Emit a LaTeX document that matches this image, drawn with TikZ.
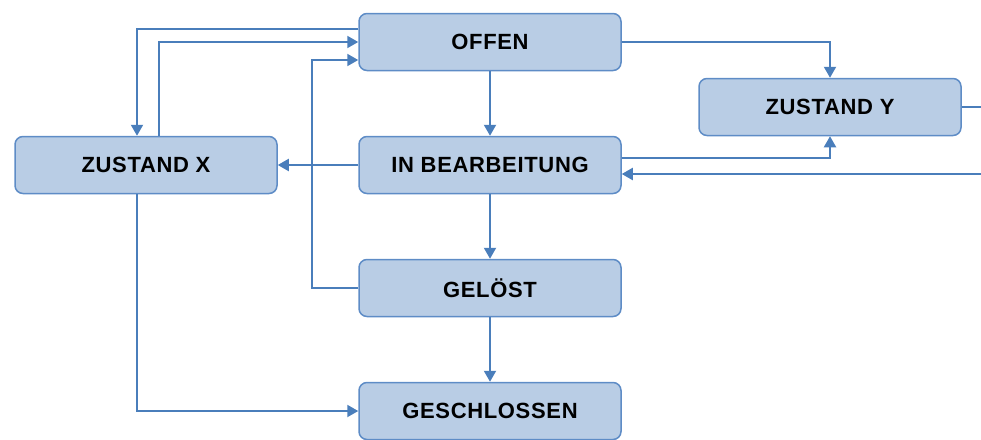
\documentclass[tikz,border=0pt]{standalone}
\usepackage{fontspec}
\setmainfont{Liberation Sans}
\usepackage{xcolor}
\usetikzlibrary{arrows.meta, calc, positioning}

\definecolor{boxfill}{HTML}{B9CDE5}
\definecolor{boxline}{HTML}{5E8CC6}
\definecolor{flowline}{HTML}{4A7EBB}

\tikzset{
  state/.style={draw=boxline, fill=boxfill, line width=1.5pt, rounded corners=8pt,
    minimum width=262pt, minimum height=57pt,
    font=\fontsize{22}{26}\selectfont\bfseries\addfontfeatures{LetterSpace=3}},
  flow/.style={flowline, line width=2pt, -{Triangle[length=11pt,width=12pt]}},
  plain/.style={flowline, line width=2pt}
}

\begin{document}
\begin{tikzpicture}[x=1pt, y=-1pt]
% Frame
\useasboundingbox (0,0) rectangle (981,439);
\clip (0,0) rectangle (981,439);

% States
\node[state] (offen) at (490,42) {OFFEN};
\node[state] (zy) at (830,107) {ZUSTAND Y};
\node[state] (zx) at (146,165) {ZUSTAND X};
\node[state] (inb) at (490,165) {IN BEARBEITUNG};
\node[state] (geloest) at (490,288) {GELÖST};
\node[state] (gesch) at (490,411) {GESCHLOSSEN};

% Transitions
\draw[flow] ([yshift=13pt]offen.west) -| ([xshift=-9pt]zx.north);
\draw[flow] ([xshift=13pt]zx.north) |- (offen.west);
\draw[flow] (geloest.west) -- ++(-46,0) |- ([yshift=-18pt]offen.west);
\draw[flow] (offen) -- (inb);
\draw[flow] (offen.east) -| (zy.north);
\draw[flow] ([yshift=7pt]inb.east) -| (zy.south);
\draw[flow] (zy.east) -- ++(40,0) |- ([yshift=-9pt]inb.east);
\draw[flow] (inb) -- (zx);
\draw[flow] (inb) -- (geloest);
\draw[flow] (geloest) -- (gesch);
\draw[flow] ([xshift=-9pt]zx.south) |- (gesch.west);
\end{tikzpicture}
\end{document}
